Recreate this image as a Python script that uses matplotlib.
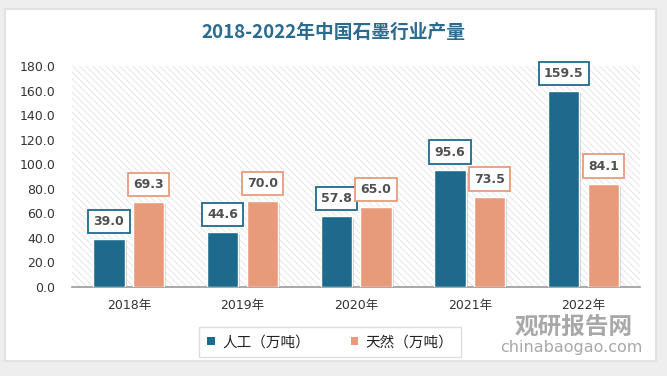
import numpy as np
import matplotlib.pyplot as plt
from matplotlib.patches import Rectangle, FancyBboxPatch
from matplotlib import patheffects as pe

plt.rcParams['font.family'] = ['DejaVu Sans', 'Noto Sans CJK SC']
plt.rcParams['hatch.linewidth'] = 0.5

years = ['2018年', '2019年', '2020年', '2021年', '2022年']
rengong = [39.0, 44.6, 57.8, 95.6, 159.5]
tianran = [69.3, 70.0, 65.0, 73.5, 84.1]
series_names = ['人工（万吨）', '天然（万吨）']
c_blue = '#1d6a8d'
c_orange = '#e89b7b'

fig = plt.figure(figsize=(6.67, 3.76), dpi=100)
fig.patch.set_facecolor('#eeeeee')
# white card with soft border
card = FancyBboxPatch((0.008, 0.04), 0.975, 0.935, boxstyle='square,pad=0',
                      transform=fig.transFigure, facecolor='white',
                      edgecolor='#e2e2e2', lw=1.5, zorder=-10)
fig.patches.append(card)

ax = fig.add_axes([0.108, 0.237, 0.852, 0.587])
ax.set_facecolor('none')
ax.add_patch(Rectangle((0, 0), 1, 1, transform=ax.transAxes, facecolor='white',
                       edgecolor='#dddddd', hatch='\\\\\\\\\\', lw=0, zorder=0))

x = np.arange(len(years))
w = 0.275
off = 0.175
shadow = [pe.SimplePatchShadow(offset=(1.5, -1.5), alpha=0.2), pe.Normal()]
b1 = ax.bar(x - off, rengong, w, color=c_blue, edgecolor='white', lw=1,
            label=series_names[0], zorder=3, path_effects=shadow)
b2 = ax.bar(x + off, tianran, w, color=c_orange, edgecolor='white', lw=1,
            label=series_names[1], zorder=3, path_effects=shadow)

for xs, vals, col in [(x - off, rengong, c_blue), (x + off, tianran, c_orange)]:
    for xi, v in zip(xs, vals):
        ax.annotate(f'{v:.1f}', (xi, v), xytext=(0, 8), textcoords='offset points',
                    ha='center', va='bottom', fontsize=9, fontweight='bold',
                    color='#505050', zorder=5,
                    bbox=dict(boxstyle='square,pad=0.42', fc='white', ec=col, lw=1.3))

ax.set_xlim(-0.5, len(years) - 0.5)
ax.set_ylim(0, 180)
ax.set_yticks(np.arange(0, 181, 20))
ax.set_yticklabels([f'{t:.1f}' for t in np.arange(0, 181, 20)])
ax.set_xticks(x)
ax.set_xticklabels(years, family=['DejaVu Sans', 'Noto Sans CJK SC'])
ax.tick_params(axis='both', length=0, labelsize=9, colors='#333333')
ax.tick_params(axis='x', pad=9)
ax.tick_params(axis='y', pad=12)
for s in ['top', 'right', 'left']:
    ax.spines[s].set_visible(False)
ax.spines['bottom'].set_color('#999999')
ax.spines['bottom'].set_linewidth(1.2)

fig.text(0.5, 0.915, '2018-2022年中国石墨行业产量', ha='center', va='center',
         fontsize=13.5, fontweight='bold', color='#2a6b8e',
         family=['Noto Sans CJK SC', 'DejaVu Sans'])

leg = fig.legend(handles=[b1, b2], labels=series_names, loc='center',
                 bbox_to_anchor=(0.495, 0.09), ncol=2, frameon=True, fancybox=False,
                 handlelength=0.5, handleheight=0.5, handletextpad=0.5, columnspacing=2.8,
                 borderpad=0.55, borderaxespad=0,
                 prop={'family': ['Noto Sans CJK SC'], 'size': 10.5})
leg.get_frame().set_edgecolor('#d6d6d6')
leg.get_frame().set_linewidth(1)
for h in leg.legend_handles:
    h.set_path_effects([])
    h.set_edgecolor('none')
for t in leg.get_texts():
    t.set_color('#222222')

# watermark
fig.text(0.86, 0.132, '观研报告网', ha='center', va='center', fontsize=17,
         fontweight='bold', color='#a8a8a8', family=['Noto Sans CJK SC'], zorder=10)
fig.text(0.857, 0.077, 'chinabaogao.com', ha='center', va='center', fontsize=11.5,
         color='#a8a8a8', zorder=10)

fig.savefig('out.png', dpi=100, facecolor=fig.get_facecolor())
